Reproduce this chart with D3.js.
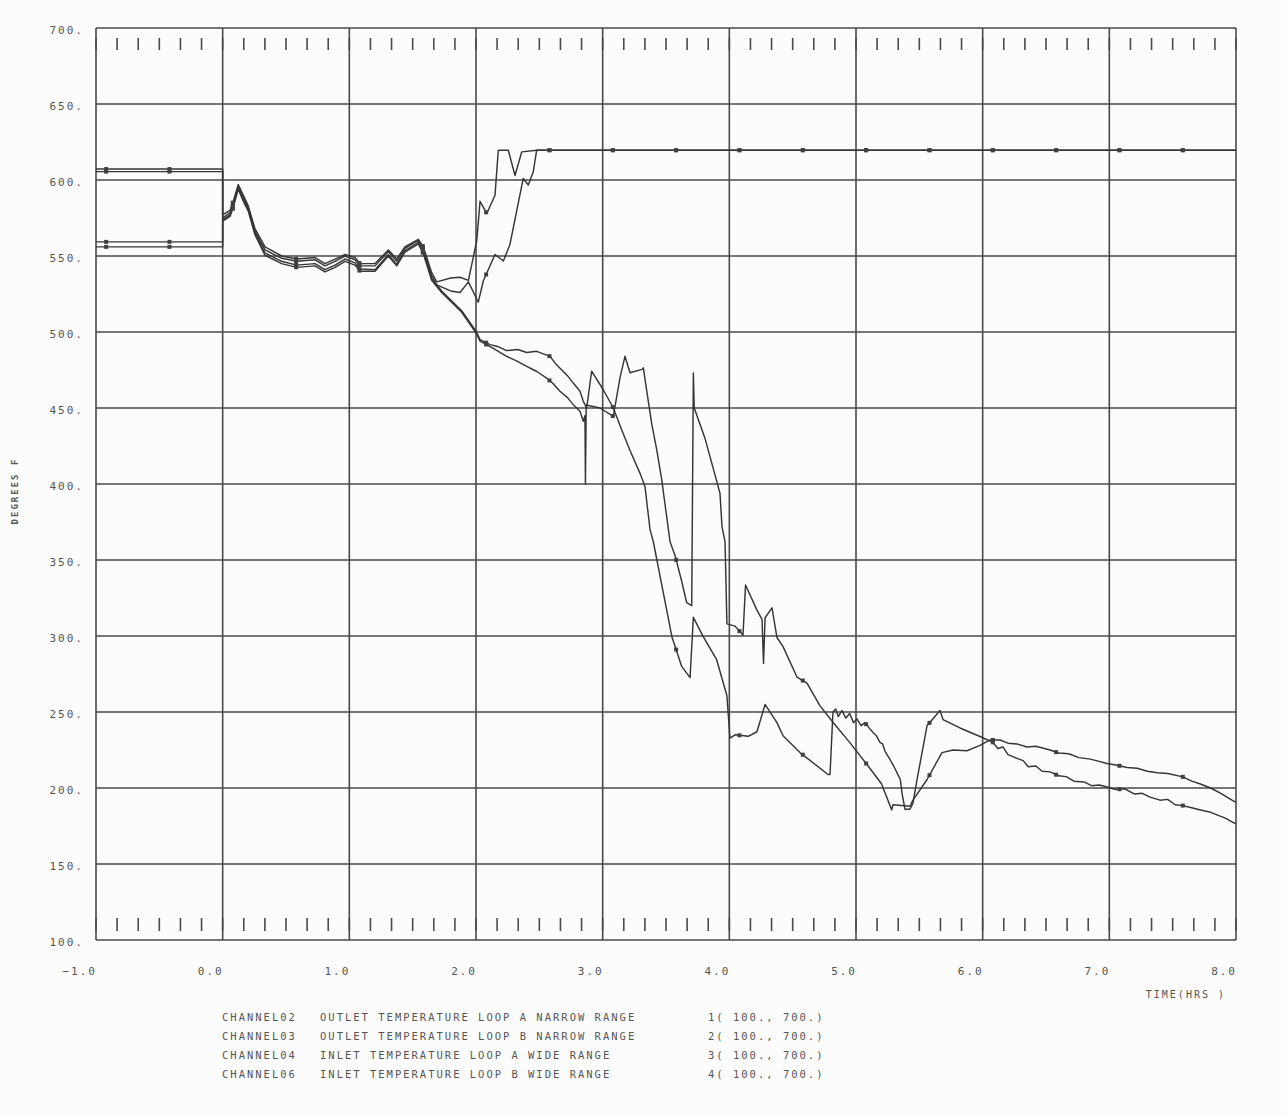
<!DOCTYPE html>
<html>
<head>
<meta charset="utf-8">
<script src="https://cdn.jsdelivr.net/npm/d3@7"></script>
<style>
  body { margin: 0; background: #fcfcfc; }
  svg { display: block; }
  text { font-family: "DejaVu Sans Mono", monospace; fill: #555; letter-spacing: 2px; }
</style>
</head>
<body>
<div class="chart"></div>
<script>
// tick values
const xTicks = [-1, 0, 1, 2, 3, 4, 5, 6, 7, 8];
const yTicks = [100, 150, 200, 250, 300, 350, 400, 450, 500, 550, 600, 650, 700];

// channel markers every half hour
const markerTimes = [-0.92, -0.42, 0.08, 0.58, 1.08, 1.58, 2.08, 2.58, 3.08, 3.58, 4.08, 4.58, 5.08, 5.58, 6.08, 6.58, 7.08, 7.58];

// [time (hrs), degrees F]
const ch02 = [[-1.0, 607.2], [0.0, 607.2], [0.0, 577], [0.058, 580], [0.084, 586], [0.123, 597], [0.163, 590], [0.202, 583],
  [0.255, 568], [0.334, 556], [0.466, 550], [0.584, 548], [0.729, 549], [0.808, 545], [0.887, 548], [0.966, 551],
  [1.045, 549], [1.084, 545], [1.203, 545], [1.308, 554], [1.374, 548], [1.439, 556], [1.545, 561], [1.584, 556],
  [1.650, 539], [1.690, 533], [1.80, 535.5], [1.874, 536], [1.940, 534], [2.006, 560], [2.032, 586], [2.085, 578],
  [2.150, 590], [2.176, 619.6], [2.255, 619.6], [2.308, 603], [2.361, 618.5], [2.479, 619.6], [8.0, 619.6]];

const ch03 = [[-1.0, 605.5], [0.0, 605.5], [0.0, 575], [0.058, 578.5], [0.084, 584], [0.123, 596], [0.163, 588.5], [0.202, 582],
  [0.255, 566.5], [0.334, 554], [0.466, 548.5], [0.584, 546.5], [0.729, 547.5], [0.808, 543.5], [0.887, 546.5], [0.966, 550],
  [1.045, 547.5], [1.084, 543.5], [1.203, 543.5], [1.308, 553], [1.374, 546.5], [1.439, 555], [1.545, 560.5], [1.584, 554.5],
  [1.650, 537], [1.690, 531], [1.80, 527], [1.874, 526], [1.940, 533], [2.018, 519.6], [2.058, 533.7], [2.150, 551],
  [2.216, 546.7], [2.268, 557.6], [2.373, 601], [2.413, 596.7], [2.452, 605.4], [2.479, 619.6], [8.0, 619.6]];

const ch04 = [[-1.0, 559.3], [0.0, 559.3], [0.0, 574], [0.058, 577], [0.084, 583], [0.123, 595], [0.163, 587], [0.202, 580.5],
  [0.255, 565], [0.334, 552], [0.466, 546.5], [0.584, 544], [0.729, 545], [0.808, 541], [0.887, 544], [0.966, 548],
  [1.045, 545.5], [1.084, 541.5], [1.203, 541], [1.308, 551], [1.374, 544.5], [1.439, 553.5], [1.545, 559], [1.584, 552.5],
  [1.650, 535], [1.729, 527], [1.887, 514], [2.0, 500.5], [2.032, 495], [2.111, 491.7], [2.17, 490.5], [2.242, 487.8],
  [2.33, 488.5], [2.40, 486.5], [2.479, 487.3], [2.584, 484], [2.63, 479], [2.689, 474], [2.73, 470.5], [2.768, 466.4],
  [2.821, 461], [2.847, 454.4], [2.874, 450], [2.913, 474.2], [3.005, 462], [3.084, 450], [3.153, 435], [3.216, 422],
  [3.295, 407], [3.334, 398.4], [3.374, 370], [3.400, 362], [3.547, 299.4], [3.624, 280], [3.690, 272.6], [3.716, 312.3],
  [3.795, 299.4], [3.900, 284.4], [3.981, 260.7], [4.005, 232.8], [4.045, 235], [4.15, 234], [4.218, 237], [4.282, 255],
  [4.376, 243], [4.424, 234.4], [4.558, 223.3], [4.779, 208.9], [4.795, 208.9], [4.818, 250], [4.84, 252], [4.86, 247],
  [4.889, 251], [4.92, 246], [4.95, 249], [4.98, 243], [5.008, 245.5], [5.04, 241], [5.07, 243], [5.110, 238.9],
  [5.14, 236], [5.16, 234.5], [5.189, 230], [5.21, 229], [5.23, 224], [5.268, 218.9], [5.30, 214], [5.33, 209],
  [5.35, 205.6], [5.363, 196.7], [5.387, 186], [5.426, 186], [5.450, 190], [5.482, 205.6], [5.561, 241], [5.663, 251],
  [5.687, 245], [5.821, 239.5], [5.979, 233.9], [6.081, 230], [6.12, 226], [6.16, 227], [6.2, 222], [6.271, 219.5],
  [6.32, 218], [6.36, 214], [6.42, 214.5], [6.47, 211], [6.532, 210.6], [6.6, 208], [6.66, 207.5], [6.72, 204.5],
  [6.8, 204], [6.86, 201.5], [6.92, 202], [6.982, 200.7], [7.05, 199], [7.12, 199.5], [7.2, 196], [7.26, 196.5],
  [7.321, 194], [7.4, 192], [7.46, 192.5], [7.52, 189], [7.581, 188.4], [7.65, 187], [7.72, 185.5], [7.8, 184],
  [7.86, 182], [7.92, 180], [7.975, 177.4], [8.0, 176.5]];

const ch06 = [[-1.0, 556], [0.0, 556], [0.0, 573], [0.058, 576], [0.084, 582], [0.123, 594], [0.163, 586], [0.202, 579.5],
  [0.255, 564], [0.334, 550.5], [0.466, 545], [0.584, 542.5], [0.729, 543.5], [0.808, 539.5], [0.887, 542.5], [0.966, 546.5],
  [1.045, 544], [1.084, 540], [1.203, 540], [1.308, 550], [1.374, 543.5], [1.439, 552.5], [1.545, 558], [1.584, 551.5],
  [1.650, 534], [1.729, 526], [1.887, 513], [2.0, 499.5], [2.032, 494], [2.14, 489], [2.242, 484], [2.32, 481],
  [2.400, 477.4], [2.48, 474], [2.558, 469.7], [2.61, 466], [2.663, 461], [2.72, 457], [2.768, 452.2], [2.821, 447.8],
  [2.847, 441.3], [2.860, 445], [2.864, 400], [2.870, 452], [2.979, 450], [3.084, 444.5], [3.137, 470], [3.176, 484],
  [3.216, 473.2], [3.311, 475.4], [3.321, 476.4], [3.348, 461.3], [3.387, 439.7], [3.427, 422.4], [3.466, 403],
  [3.518, 370.6], [3.532, 362], [3.571, 353], [3.624, 336], [3.663, 322], [3.703, 320], [3.716, 473], [3.723, 450],
  [3.808, 430], [3.926, 394], [3.942, 372], [3.966, 362], [3.981, 308], [4.045, 306.5], [4.108, 300.6], [4.128, 333.6],
  [4.218, 317], [4.258, 311], [4.270, 282], [4.282, 312], [4.337, 318.5], [4.376, 299], [4.424, 293], [4.534, 273],
  [4.613, 269], [4.716, 254], [4.818, 243.3], [4.95, 230], [5.1, 214], [5.2, 203], [5.282, 185.6], [5.292, 189],
  [5.426, 188], [5.450, 192], [5.561, 205.6], [5.679, 223.3], [5.766, 225], [5.876, 224.5], [5.979, 228], [6.058, 231.6],
  [6.137, 231.6], [6.2, 229.5], [6.27, 229], [6.35, 227], [6.42, 227.5], [6.532, 225], [6.6, 223], [6.68, 222.5],
  [6.76, 220], [6.85, 219], [6.92, 217.5], [6.982, 216.1], [7.060, 215], [7.14, 213.5], [7.22, 213], [7.3, 211],
  [7.38, 210], [7.46, 209.5], [7.581, 207.3], [7.65, 204.5], [7.714, 202.8], [7.8, 200], [7.88, 196.5], [7.975, 191.7],
  [8.0, 190.5]];

const channels = [
  { name: "CHANNEL02", desc: "OUTLET TEMPERATURE LOOP A NARROW RANGE", range: "1( 100., 700.)", values: ch02 },
  { name: "CHANNEL03", desc: "OUTLET TEMPERATURE LOOP B NARROW RANGE", range: "2( 100., 700.)", values: ch03 },
  { name: "CHANNEL04", desc: "INLET TEMPERATURE LOOP A WIDE RANGE", range: "3( 100., 700.)", values: ch04 },
  { name: "CHANNEL06", desc: "INLET TEMPERATURE LOOP B WIDE RANGE", range: "4( 100., 700.)", values: ch06 }
];

const width = 1287, height = 1117;
const svg = d3.select(".chart").append("svg")
  .attr("width", width)
  .attr("height", height);

const x = d3.scaleLinear().domain([-1, 8]).range([96, 1236]);
const y = d3.scaleLinear().domain([100, 700]).range([940, 28]);

const grid = svg.append("g").attr("stroke", "#4a4a4a").attr("stroke-width", 1.6);

// grid lines
grid.selectAll(".vgrid")
  .data(xTicks)
  .join("line")
  .attr("class", "vgrid")
  .attr("x1", d => x(d)).attr("x2", d => x(d))
  .attr("y1", y(700)).attr("y2", y(100));

grid.selectAll(".hgrid")
  .data(yTicks)
  .join("line")
  .attr("class", "hgrid")
  .attr("x1", x(-1)).attr("x2", x(8))
  .attr("y1", d => y(d)).attr("y2", d => y(d));

// ten minute ticks, top and bottom
const minorTicks = d3.range(0, 55).map(i => -1 + i / 6);
grid.selectAll(".ttop")
  .data(minorTicks)
  .join("line")
  .attr("x1", d => x(d)).attr("x2", d => x(d))
  .attr("y1", 38).attr("y2", 50);
grid.selectAll(".tbot")
  .data(minorTicks)
  .join("line")
  .attr("x1", d => x(d)).attr("x2", d => x(d))
  .attr("y1", 918).attr("y2", 931);

// axis labels
svg.selectAll(".ylab")
  .data(yTicks)
  .join("text")
  .attr("x", 84)
  .attr("y", d => y(d) + 2)
  .attr("dy", "0.35em")
  .attr("text-anchor", "end")
  .attr("font-size", 11)
  .text(d => d + ".");

svg.selectAll(".xlab")
  .data(xTicks)
  .join("text")
  .attr("x", d => x(d) + 1)
  .attr("y", 971)
  .attr("dy", "0.35em")
  .attr("text-anchor", "end")
  .attr("font-size", 11)
  .text(d => d3.format(".1f")(d));

svg.append("text")
  .attr("x", 1226)
  .attr("y", 994)
  .attr("dy", "0.35em")
  .attr("text-anchor", "end")
  .attr("font-size", 10)
  .text("TIME(HRS )");

svg.append("text")
  .attr("transform", "translate(15,491) rotate(-90)")
  .attr("dy", "0.35em")
  .attr("text-anchor", "middle")
  .attr("font-size", 9)
  .attr("font-weight", "bold")
  .text("DEGREES F");

// traces
const line = d3.line().x(d => x(d[0])).y(d => y(d[1]));

svg.append("g")
  .selectAll(".trace")
  .data(channels)
  .join("path")
  .attr("class", "trace")
  .attr("d", d => line(d.values))
  .attr("fill", "none")
  .attr("stroke", "#363636")
  .attr("stroke-width", 1.45)
  .attr("stroke-linejoin", "round");

// half hour channel markers
function valueAt(values, t) {
  const i = d3.bisector(d => d[0]).right(values, t);
  const a = values[Math.max(0, i - 1)], b = values[Math.min(values.length - 1, i)];
  if (b[0] === a[0]) return a[1];
  return a[1] + (b[1] - a[1]) * (t - a[0]) / (b[0] - a[0]);
}

channels.forEach(c => {
  svg.append("g")
    .selectAll("rect")
    .data(markerTimes)
    .join("rect")
    .attr("x", t => x(t) - 2)
    .attr("y", t => y(valueAt(c.values, t)) - 2)
    .attr("width", 4)
    .attr("height", 4)
    .attr("fill", "#404040");
});

// legend
const legend = svg.append("g").attr("font-size", 10.5);
legend.selectAll(".lname")
  .data(channels)
  .join("text")
  .attr("x", 222)
  .attr("y", (d, i) => 1017 + i * 19)
  .attr("dy", "0.35em")
  .text(d => d.name);
legend.selectAll(".ldesc")
  .data(channels)
  .join("text")
  .attr("x", 320)
  .attr("y", (d, i) => 1017 + i * 19)
  .attr("dy", "0.35em")
  .text(d => d.desc);
legend.selectAll(".lrange")
  .data(channels)
  .join("text")
  .attr("x", 708)
  .attr("y", (d, i) => 1017 + i * 19)
  .attr("dy", "0.35em")
  .text(d => d.range);
</script>
</body>
</html>
